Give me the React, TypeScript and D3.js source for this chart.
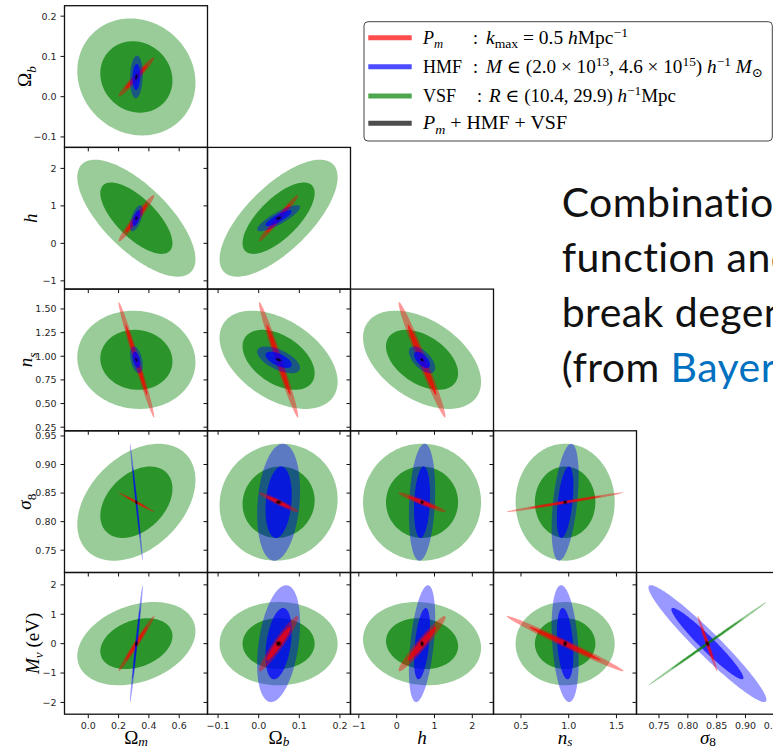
import React from "react";
import * as d3 from "d3";

// ---------------- DATA ----------------
// parameter order: Ωm, Ωb, h, ns, σ8, Mν
const PARAM_NAMES = ["Omega_m", "Omega_b", "h", "n_s", "sigma_8", "M_nu"];
const FIDUCIAL = [0.3175, 0.049, 0.6711, 0.9624, 0.834, 0.0];
const DOMAINS: [number, number][] = [
  [-0.157, 0.787],
  [-0.126, 0.226],
  [-1.22, 2.56],
  [0.212, 1.71],
  [0.711, 0.959],
  [-2.4, 2.42],
];
const TICKS_X = [
  [0, 0.2, 0.4, 0.6],
  [-0.1, 0, 0.1, 0.2],
  [-1, 0, 1, 2],
  [0.5, 1.0, 1.5],
  [0.75, 0.8, 0.85, 0.9, 0.95],
];
const TICK_X_DECIMALS = [1, 1, 0, 1, 2];
const TICKS_Y = [
  [-0.1, 0, 0.1, 0.2],
  [-1, 0, 1, 2],
  [0.25, 0.5, 0.75, 1.0, 1.25, 1.5],
  [0.75, 0.8, 0.85, 0.9, 0.95],
  [-2, -1, 0, 1, 2],
];
const TICK_Y_DECIMALS = [1, 0, 2, 2, 0];

// 1-sigma marginal errors per probe
const SIGMA_PM = [0.0475, 0.0195, 0.25, 0.246, 0.0069, 0.378];
const SIGMA_HMF = [0.017, 0.0213, 0.14, 0.057, 0.0412, 0.8];
const SIGMA_VSF = [0.157, 0.0585, 0.628, 0.209, 0.0412, 0.57];
const SIGMA_ALL = [0.004, 0.003, 0.02, 0.0085, 0.0015, 0.04];

// correlation coefficients, pairs (0,1),(0,2),(0,3),(0,4),(0,5),(1,2),(1,3),(1,4),(1,5),(2,3),(2,4),(2,5),(3,4),(3,5),(4,5)
const RHO_PM = [0.97, 0.97, -0.985, -0.987, 0.985, 0.98, -0.98, -0.95, 0.95, -0.98, -0.95, 0.96, 0.985, -0.99, -0.98];
const RHO_HMF = [0.1, 0.6, -0.4, -0.985, 0.98, 0.85, -0.6, 0.2, 0.35, -0.6, 0.2, 0.45, 0.45, -0.3, -0.96];
const RHO_VSF = [-0.1, -0.7, -0.05, 0.38, 0.3, 0.7, -0.45, 0.05, 0.0, -0.45, 0.0, -0.1, 0.0, 0.0, 0.999];
const RHO_ALL = [0.3, 0.3, -0.5, -0.3, 0.3, 0.5, -0.5, 0.0, 0.0, -0.5, 0.0, 0.0, 0.0, 0.0, -0.5];

const PROBE_NAMES = ["VSF", "HMF", "Pm", "All"];
const PROBE_SIGMAS = [SIGMA_VSF, SIGMA_HMF, SIGMA_PM, SIGMA_ALL];
const PROBE_RHOS = [RHO_VSF, RHO_HMF, RHO_PM, RHO_ALL];
const PROBE_COLORS = ["#008000", "#0000ff", "#ff0000", "#000000"];
// rows in which the HMF contours lie on top of the Pm ones
const HMF_ON_TOP_ROWS = [0, 1, 2];

// ---------------- LAYOUT ----------------
const W = 773;
const H = 749;
const PANEL_LEFT = 64.5;
const PANEL_TOP = 5.7;
const PANEL_W = 143;
const PANEL_H = 141.7;
const K1 = Math.sqrt(2.3);
const K2 = Math.sqrt(6.17);
const ALPHA_OUT = 0.4;
const ALPHA_IN = 0.72;
const TICK_FONT = "'DejaVu Sans', sans-serif";
const MATH_FONT = "'Liberation Serif', 'DejaVu Serif', serif";
const YLABEL_BASE_X = [31, 36.5, 32, 31, 38.5];

function pairIndex(i: number, j: number) {
  let idx = 0;
  for (let a = 0; a < 6; a++)
    for (let b = a + 1; b < 6; b++) {
      if (a === i && b === j) return idx;
      idx++;
    }
  return -1;
}

function ellipsePath(xs: any, ys: any, cx: number, cy: number, sx: number, sy: number, rho: number, k: number) {
  const s = Math.sqrt(Math.max(0, 1 - rho * rho));
  const pts: [number, number][] = d3.range(0, 160).map((i) => {
    const t = (i / 160) * 2 * Math.PI;
    const x = cx + k * sx * Math.cos(t);
    const y = cy + k * sy * (rho * Math.cos(t) + s * Math.sin(t));
    return [xs(x), ys(y)];
  });
  return d3.line().curve(d3.curveLinearClosed)(pts) as string;
}

type Seg = { t: string; it?: boolean; sup?: boolean; sub?: boolean };

function Rich(props: {
  x: number;
  y: number;
  segs: Seg[];
  size: number;
  textLength?: number;
  anchor?: string;
  transform?: string;
  subOff?: number;
}) {
  const { x, y, segs, size, textLength, anchor, transform } = props;
  const subOff = props.subOff ?? 0.25;
  let cur = 0;
  const kids = segs.map((s, i) => {
    const off = s.sup ? -0.4 * size : s.sub ? subOff * size : 0;
    const dy = off - cur;
    cur = off;
    return (
      <tspan key={i} dy={dy} fontStyle={s.it ? "italic" : "normal"} fontSize={s.sup || s.sub ? size * 0.7 : size}>
        {s.t}
      </tspan>
    );
  });
  return (
    <text
      x={x}
      y={y}
      fontFamily={MATH_FONT}
      fontSize={size}
      fill="#000"
      textAnchor={anchor || "start"}
      transform={transform}
      style={{ whiteSpace: "pre" }}
      {...(textLength ? { textLength, lengthAdjust: "spacingAndGlyphs" } : {})}
    >
      {kids}
    </text>
  );
}

const AXIS_LABELS: Seg[][] = [
  [{ t: "Ω" }, { t: "m", it: true, sub: true }],
  [{ t: "Ω" }, { t: "b", it: true, sub: true }],
  [{ t: "h", it: true }],
  [{ t: "n", it: true }, { t: "s", it: true, sub: true }],
  [{ t: "σ", it: true }, { t: "8", sub: true }],
  [{ t: "M", it: true }, { t: "ν", it: true, sub: true }, { t: " (eV)" }],
];

function Panel({ r, c }: { r: number; c: number }) {
  const xi = c;
  const yi = r + 1;
  const x0 = PANEL_LEFT + c * PANEL_W;
  const y0 = PANEL_TOP + r * PANEL_H;
  const xs = d3.scaleLinear().domain(DOMAINS[xi]).range([x0, x0 + PANEL_W]);
  const ys = d3.scaleLinear().domain(DOMAINS[yi]).range([y0 + PANEL_H, y0]);
  const pi = pairIndex(xi, yi);
  const pxX = Math.abs(xs(1) - xs(0));
  const pxY = Math.abs(ys(1) - ys(0));

  let order = PROBE_NAMES.map((name, p) => {
    const sx = PROBE_SIGMAS[p][xi];
    const sy = PROBE_SIGMAS[p][yi];
    const rho = PROBE_RHOS[p][pi];
    const area = Math.PI * sx * pxX * sy * pxY * Math.sqrt(1 - rho * rho);
    return { p, sx, sy, rho, area: name === "All" ? -1 : area };
  });
  order.sort((a, b) => b.area - a.area);
  const all = order.find((o) => o.p === 3)!;
  order = order.filter((o) => o.p !== 3);
  if (HMF_ON_TOP_ROWS.includes(r)) {
    const hmf = order.find((o) => o.p === 1)!;
    order = order.filter((o) => o.p !== 1);
    order.push(hmf);
  }
  order.push(all);

  const clipId = `clip-${r}-${c}`;
  const fmtX = d3.format(`.${TICK_X_DECIMALS[xi]}f`);
  const fmtY = d3.format(`.${TICK_Y_DECIMALS[r]}f`);
  const xt = TICKS_X[xi];
  const yt = TICKS_Y[r];

  return (
    <g>
      <defs>
        <clipPath id={clipId}>
          <rect x={x0} y={y0} width={PANEL_W} height={PANEL_H} />
        </clipPath>
      </defs>
      <g clipPath={`url(#${clipId})`}>
        {order.map((o) => (
          <g key={o.p}>
            <path
              d={ellipsePath(xs, ys, FIDUCIAL[xi], FIDUCIAL[yi], o.sx, o.sy, o.rho, K2)}
              fill={PROBE_COLORS[o.p]}
              fillOpacity={ALPHA_OUT}
            />
            <path
              d={ellipsePath(xs, ys, FIDUCIAL[xi], FIDUCIAL[yi], o.sx, o.sy, o.rho, K1)}
              fill={PROBE_COLORS[o.p]}
              fillOpacity={ALPHA_IN}
            />
          </g>
        ))}
      </g>
      <rect x={x0} y={y0} width={PANEL_W} height={PANEL_H} fill="none" stroke="#111" strokeWidth={1.3} />
      {xt.map((t) => (
        <line key={"xt" + t} x1={xs(t)} x2={xs(t)} y1={y0 + PANEL_H} y2={y0 + PANEL_H + 4} stroke="#111" strokeWidth={1} />
      ))}
      {yt.map((t) => (
        <line key={"yt" + t} x1={x0 - 4} x2={x0} y1={ys(t)} y2={ys(t)} stroke="#111" strokeWidth={1} />
      ))}
      {r === 4 &&
        xt.map((t) => (
          <text key={"xl" + t} x={xs(t)} y={y0 + PANEL_H + 15} textAnchor="middle" fontFamily={TICK_FONT} fontSize={9.5} fill="#262626">
            {fmtX(t)}
          </text>
        ))}
      {c === 0 &&
        yt.map((t) => (
          <text key={"yl" + t} x={x0 - 8} y={ys(t) + 3.4} textAnchor="end" fontFamily={TICK_FONT} fontSize={9.5} fill="#262626">
            {fmtY(t)}
          </text>
        ))}
      {r === 4 && <Rich x={x0 + PANEL_W / 2} y={743.5} segs={AXIS_LABELS[xi]} size={19} anchor="middle" subOff={0.12} />}
      {c === 0 && (
        <Rich
          x={0}
          y={0}
          segs={AXIS_LABELS[yi]}
          size={19}
          anchor="middle"
          transform={`translate(${YLABEL_BASE_X[r]},${y0 + PANEL_H / 2}) rotate(-90)`}
        />
      )}
    </g>
  );
}

const LEGEND_ROWS: { color: string; label: Seg[]; colonX: number; restX: number; rest: Seg[]; restLen?: number }[] = [
  {
    color: "#ff4d4d",
    label: [{ t: "P", it: true }, { t: "m", it: true, sub: true }],
    colonX: 473,
    restX: 486,
    rest: [{ t: "k", it: true }, { t: "max", sub: true }, { t: " = 0.5 " }, { t: "h", it: true }, { t: "Mpc" }, { t: "−1", sup: true }],
    restLen: 142,
  },
  {
    color: "#4d4dff",
    label: [{ t: "HMF" }],
    colonX: 473,
    restX: 486,
    rest: [
      { t: "M", it: true },
      { t: " ∈ (2.0 × 10" },
      { t: "13", sup: true },
      { t: ", 4.6 × 10" },
      { t: "15", sup: true },
      { t: ") " },
      { t: "h", it: true },
      { t: "−1", sup: true },
      { t: " " },
      { t: "M", it: true },
      { t: "⊙", sub: true },
    ],
    restLen: 277,
  },
  {
    color: "#4da64d",
    label: [{ t: "VSF" }],
    colonX: 477,
    restX: 489,
    rest: [{ t: "R", it: true }, { t: " ∈ (10.4, 29.9) " }, { t: "h", it: true }, { t: "−1", sup: true }, { t: "Mpc" }],
    restLen: 187,
  },
  {
    color: "#4d4d4d",
    label: [{ t: "P", it: true }, { t: "m", it: true, sub: true }, { t: " + HMF + VSF" }],
    colonX: -1,
    restX: -1,
    rest: [],
  },
];
const LEGEND_LINE_Y = [37.7, 66.7, 96, 123.3];

function Legend() {
  return (
    <g>
      <rect x={364} y={21.7} width={408.3} height={119.3} rx={4} fill="#fff" stroke="#444" strokeWidth={1} />
      {LEGEND_ROWS.map((row, i) => (
        <g key={i}>
          <line x1={368.3} x2={411.7} y1={LEGEND_LINE_Y[i]} y2={LEGEND_LINE_Y[i]} stroke={row.color} strokeWidth={5} />
          <Rich x={423} y={LEGEND_LINE_Y[i] + 6} segs={row.label} size={18} textLength={i === 3 ? 144 : undefined} />
          {row.colonX > 0 && (
            <text x={row.colonX} y={LEGEND_LINE_Y[i] + 6} fontFamily={MATH_FONT} fontSize={18}>
              :
            </text>
          )}
          {row.rest.length > 0 && <Rich x={row.restX} y={LEGEND_LINE_Y[i] + 6} segs={row.rest} size={18} textLength={row.restLen} />}
        </g>
      ))}
    </g>
  );
}

const SLIDE_LINES = ["Combination of void size", "function and halo mass function", "break degeneracies"];
const SLIDE_BASELINES = [216.7, 271.7, 326.7, 381.7];

export default function App() {
  const panels: { r: number; c: number }[] = [];
  for (let r = 0; r < 5; r++) for (let c = 0; c <= r; c++) panels.push({ r, c });
  return (
    <svg width={W} height={H} style={{ position: "absolute", left: 0, top: 0, background: "#fff" }}>
      <rect x={0} y={0} width={W} height={H} fill="#fff" />
      {panels.map((p) => (
        <Panel key={`${p.r}-${p.c}`} r={p.r} c={p.c} />
      ))}
      <Legend />
      <g
        fontFamily="Lato, 'Open Sans', sans-serif"
        fontSize={41}
        fill="#111"
        letterSpacing={0.45}
        style={{ fontVariantLigatures: "none", fontFeatureSettings: "'liga' 0, 'dlig' 0" }}
      >
        {SLIDE_LINES.map((s, i) => (
          <text key={i} x={561.7} y={SLIDE_BASELINES[i]}>
            {s}
          </text>
        ))}
        <text x={561.7} y={SLIDE_BASELINES[3]}>
          (from <tspan fill="#0070c0">Bayer et al. 2021</tspan>)
        </text>
      </g>
    </svg>
  );
}
